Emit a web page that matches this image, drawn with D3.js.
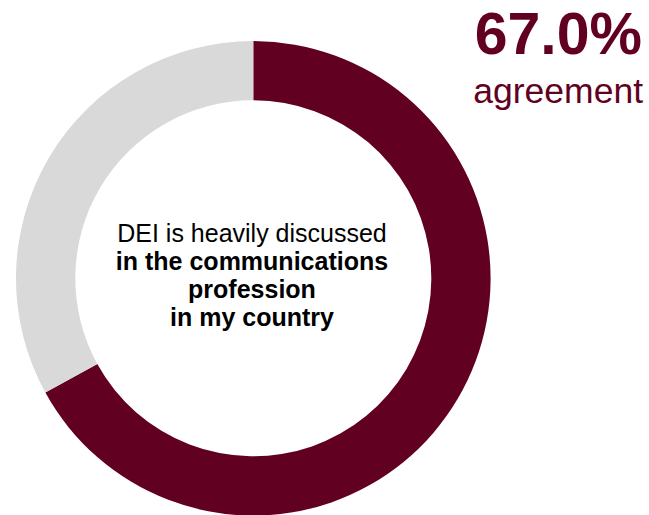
<!DOCTYPE html>
<html>
<head>
<meta charset="utf-8">
<script src="https://cdn.jsdelivr.net/npm/d3@7"></script>
<style>
html,body{margin:0;padding:0;background:#fff;}
svg{display:block;}
</style>
</head>
<body>
<svg id="chart" width="649" height="515"></svg>
<script>
const categories = ["Agree", "Other"];
const values = [67.0, 33.0];
const colors = ["#620022", "#d9d9d9"];
const bigLabel = "67.0%";
const subLabel = "agreement";
const centerLines = [
  {text: "DEI is heavily discussed", bold: false},
  {text: "in the communications", bold: true},
  {text: "profession", bold: true},
  {text: "in my country", bold: true}
];

const svg = d3.select("#chart");
const cx = 253.3, cy = 278.3, outerR = 237.3, innerR = 178;

const pie = d3.pie().sort(null).value(d => d);
const arc = d3.arc().innerRadius(innerR).outerRadius(outerR);
const color = d3.scaleOrdinal().domain(categories).range(colors);

const g = svg.append("g").attr("transform", `translate(${cx},${cy})`);
g.selectAll("path")
  .data(pie(values))
  .enter().append("path")
  .attr("d", arc)
  .attr("fill", (d, i) => color(categories[i]));

const font = "'Liberation Sans', Arial, sans-serif";
const ct = svg.append("g").attr("font-family", font).attr("font-size", 25).attr("fill", "#000").attr("text-anchor", "middle");
centerLines.forEach((l, i) => {
  ct.append("text")
    .attr("x", 252)
    .attr("y", 242 + i * 28)
    .attr("font-weight", l.bold ? "bold" : "normal")
    .text(l.text);
});

svg.append("text")
  .attr("x", 642).attr("y", 54)
  .attr("text-anchor", "end")
  .attr("font-family", font).attr("font-weight", "bold").attr("font-size", 59)
  .attr("fill", "#620022")
  .text(bigLabel);

svg.append("text")
  .attr("x", 643).attr("y", 103)
  .attr("text-anchor", "end")
  .attr("font-family", font).attr("font-size", 35.5)
  .attr("fill", "#620022")
  .text(subLabel);
</script>
</body>
</html>
